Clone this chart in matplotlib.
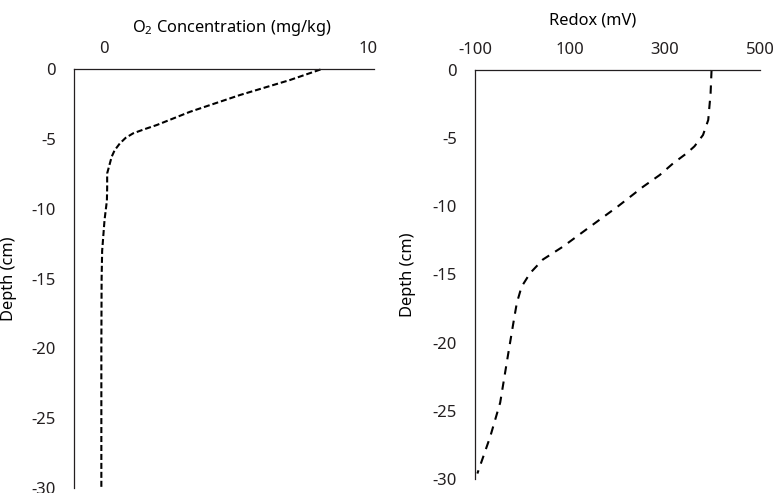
import matplotlib.pyplot as plt

# O2 profile (left panel)
o2_depth = [0, -0.75, -1.83, -3.03, -3.98, -4.3, -4.58, -4.9, -5.3, -5.8, -6.26, -7.45, -8.5, -9.4, -10.8, -13, -15, -20, -25, -30]
o2_conc = [8.2, 7.05, 5.15, 3.26, 2.0, 1.5, 1.1, 0.82, 0.6, 0.4, 0.29, 0.12, 0.12, 0.11, 0.02, -0.07, -0.09, -0.1, -0.1, -0.1]

# redox profile (right panel)
redox_depth = [0, -1.7, -3.67, -4.77, -5.6, -6.1, -6.85, -7.7, -8.56, -10.0, -11.5, -12.96,
               -13.9, -14.9, -15.9, -17.1, -18.3, -20.8, -24.4, -26.9, -29.6]
redox_mv = [398, 396, 391, 380, 362, 346, 317, 289, 254, 201, 142, 85,
            43, 16, -2, -12, -18, -30, -47, -68, -95]

depth_ticks = [0, -5, -10, -15, -20, -25, -30]
o2_ticks = [0, 10]
redox_ticks = [-100, 100, 300, 500]

ink = '#231f20'
plt.rcParams['font.family'] = ['Noto Sans', 'DejaVu Sans']
plt.rcParams['mathtext.default'] = 'regular'
plt.rcParams['axes.unicode_minus'] = False
plt.rcParams['text.color'] = ink

fig = plt.figure(figsize=(7.76, 4.93), dpi=100)
ax1 = fig.add_axes([74 / 776, 1 - 488 / 493, 300 / 776, 418.5 / 493])
ax2 = fig.add_axes([475 / 776, 1 - 479 / 493, 285 / 776, 409 / 493])


def style(ax, xlim, xticks, label, lx, ly, ylx):
    ax.set_xlim(*xlim)
    ax.set_ylim(-30, 0)
    ax.set_xticks(xticks)
    ax.set_yticks(depth_ticks)
    ax.xaxis.tick_top()
    ax.tick_params(length=0, labelsize=12, colors=ink)
    ax.tick_params(axis='x', pad=9)
    ax.tick_params(axis='y', pad=13)
    for s in ['right', 'bottom']:
        ax.spines[s].set_visible(False)
    for s in ['top', 'left']:
        ax.spines[s].set_linewidth(0.9)
        ax.spines[s].set_color(ink)
    ax.xaxis.set_label_position('top')
    ax.set_xlabel(label, fontsize=11.8)
    ax.xaxis.label.set_verticalalignment('center')
    ax.xaxis.set_label_coords(lx, ly)
    ax.set_ylabel('Depth (cm)', fontsize=11.8)
    ax.yaxis.set_label_coords(ylx, 0.5)


ax1.plot(o2_conc, o2_depth, color='black', lw=1.5, linestyle=(0, (2.9, 1.4)), clip_on=False)
style(ax1, (-1.136, 10.227), o2_ticks, 'O$_2$ Concentration (mg/kg)', 0.525, 1.099, -0.19)

ax2.plot(redox_mv, redox_depth, color='black', lw=1.5, linestyle=(0, (4, 3.4)), clip_on=False)
style(ax2, (-100, 500), redox_ticks, 'Redox (mV)', 0.414, 1.122, -0.208)

plt.savefig('out.png', dpi=100)
